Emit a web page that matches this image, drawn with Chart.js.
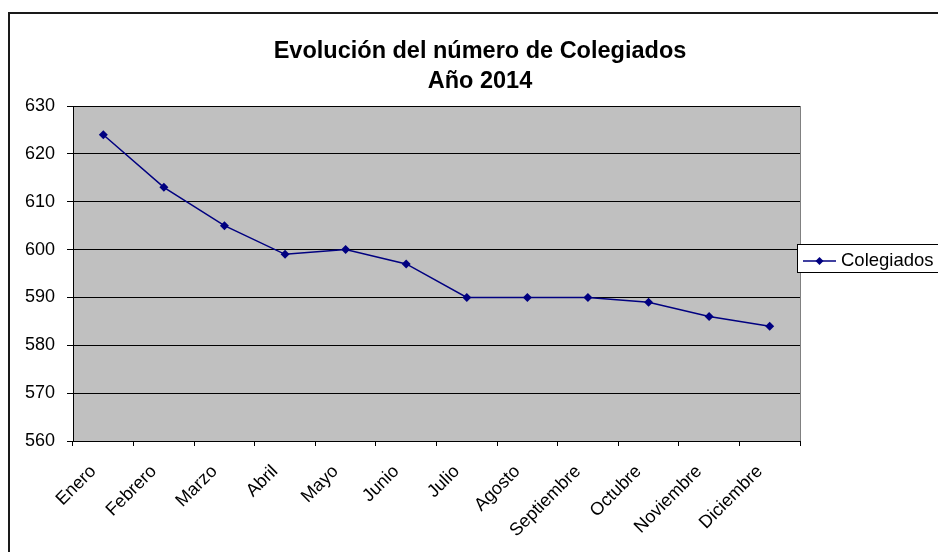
<!DOCTYPE html>
<html lang="es">
<head>
    <meta charset="UTF-8">
    <title>Evolución del número de Colegiados</title>
    <style>
        body {
            margin: 0;
            background-color: #ffffff;
        }
        canvas {
            display: block;
        }
    </style>
    <script src="https://cdn.jsdelivr.net/npm/chart.js"></script>
</head>
<body>
    <canvas id="colegiadosChart" width="938" height="552"></canvas>

    <script>
        // Datos
        const meses = ['Enero', 'Febrero', 'Marzo', 'Abril', 'Mayo', 'Junio',
            'Julio', 'Agosto', 'Septiembre', 'Octubre', 'Noviembre', 'Diciembre'];
        const colegiados = [624, 613, 605, 599, 600, 597, 590, 590, 590, 589, 586, 584];
        const tituloLineas = ['Evolución del número de Colegiados', 'Año 2014'];
        const serieNombre = 'Colegiados';
        const ejeMin = 560;
        const ejeMax = 630;
        const ejePaso = 10;

        const fuente = '"Liberation Sans", Arial, sans-serif';
        const azul = '#000080';

        // Fondo, marco exterior, título y leyenda al estilo Excel
        const estiloExcel = {
            id: 'estiloExcel',
            beforeDraw(chart) {
                const ctx = chart.ctx;
                const area = chart.chartArea;
                ctx.save();
                ctx.fillStyle = '#ffffff';
                ctx.fillRect(0, 0, chart.width, chart.height);
                ctx.strokeStyle = '#1a1a1a';
                ctx.lineWidth = 2;
                ctx.strokeRect(9, 13, chart.width + 20, chart.height + 20);
                ctx.fillStyle = '#c0c0c0';
                ctx.fillRect(area.left, area.top, area.right - area.left, area.bottom - area.top);
                ctx.strokeStyle = '#808080';
                ctx.lineWidth = 1;
                ctx.beginPath();
                ctx.moveTo(area.right + 0.5, area.top);
                ctx.lineTo(area.right + 0.5, area.bottom);
                ctx.stroke();
                ctx.restore();
            },
            afterDraw(chart) {
                const ctx = chart.ctx;
                ctx.save();
                // título
                ctx.fillStyle = '#000000';
                ctx.font = 'bold 23.5px ' + fuente;
                ctx.textAlign = 'center';
                ctx.textBaseline = 'alphabetic';
                ctx.fillText(tituloLineas[0], 480, 58);
                ctx.fillText(tituloLineas[1], 480, 88);

                // leyenda
                const ds = chart.data.datasets[0];
                ctx.fillStyle = '#ffffff';
                ctx.fillRect(797, 244, 160, 29);
                ctx.strokeStyle = '#000000';
                ctx.lineWidth = 1;
                ctx.strokeRect(797.5, 244.5, 160, 28);
                ctx.strokeStyle = ds.borderColor;
                ctx.lineWidth = 1.5;
                ctx.beginPath();
                ctx.moveTo(803, 261);
                ctx.lineTo(836, 261);
                ctx.stroke();
                ctx.fillStyle = ds.borderColor;
                ctx.beginPath();
                ctx.moveTo(819.5, 257);
                ctx.lineTo(823.5, 261);
                ctx.lineTo(819.5, 265);
                ctx.lineTo(815.5, 261);
                ctx.closePath();
                ctx.fill();
                ctx.fillStyle = '#000000';
                ctx.font = '18.5px ' + fuente;
                ctx.textAlign = 'left';
                ctx.fillText(ds.label, 841, 266);
                ctx.restore();
            }
        };

        const ctx = document.getElementById('colegiadosChart').getContext('2d');
        const myChart = new Chart(ctx, {
            type: 'line',
            data: {
                labels: meses,
                datasets: [{
                    label: serieNombre,
                    data: colegiados,
                    borderColor: azul,
                    backgroundColor: azul,
                    borderWidth: 1.5,
                    pointStyle: 'rectRot',
                    pointRadius: 4.5,
                    pointBackgroundColor: azul,
                    pointBorderColor: azul,
                    pointBorderWidth: 0,
                    tension: 0,
                    fill: false
                }]
            },
            options: {
                responsive: false,
                animation: false,
                devicePixelRatio: 1,
                layout: {
                    padding: { top: 106, right: 138, left: 0, bottom: 0 }
                },
                plugins: {
                    legend: { display: false },
                    title: { display: false },
                    tooltip: { enabled: false }
                },
                scales: {
                    x: {
                        type: 'category',
                        offset: true,
                        afterFit(scale) { scale.height = 111; },
                        grid: {
                            offset: true,
                            drawOnChartArea: false,
                            drawTicks: true,
                            tickLength: 5,
                            color: '#000000'
                        },
                        border: { color: '#000000', width: 1 },
                        ticks: {
                            autoSkip: false,
                            minRotation: 45,
                            maxRotation: 45,
                            padding: 15,
                            labelOffset: -10,
                            color: '#000000',
                            font: { size: 18, family: fuente }
                        }
                    },
                    y: {
                        min: ejeMin,
                        max: ejeMax,
                        afterFit(scale) { scale.width = 73; },
                        grid: {
                            color: '#000000',
                            lineWidth: 1,
                            drawTicks: true,
                            tickLength: 6
                        },
                        border: { color: '#000000', width: 1 },
                        ticks: {
                            stepSize: ejePaso,
                            padding: 12,
                            color: '#000000',
                            font: { size: 18, family: fuente }
                        }
                    }
                }
            },
            plugins: [estiloExcel]
        });
    </script>
</body>
</html>
